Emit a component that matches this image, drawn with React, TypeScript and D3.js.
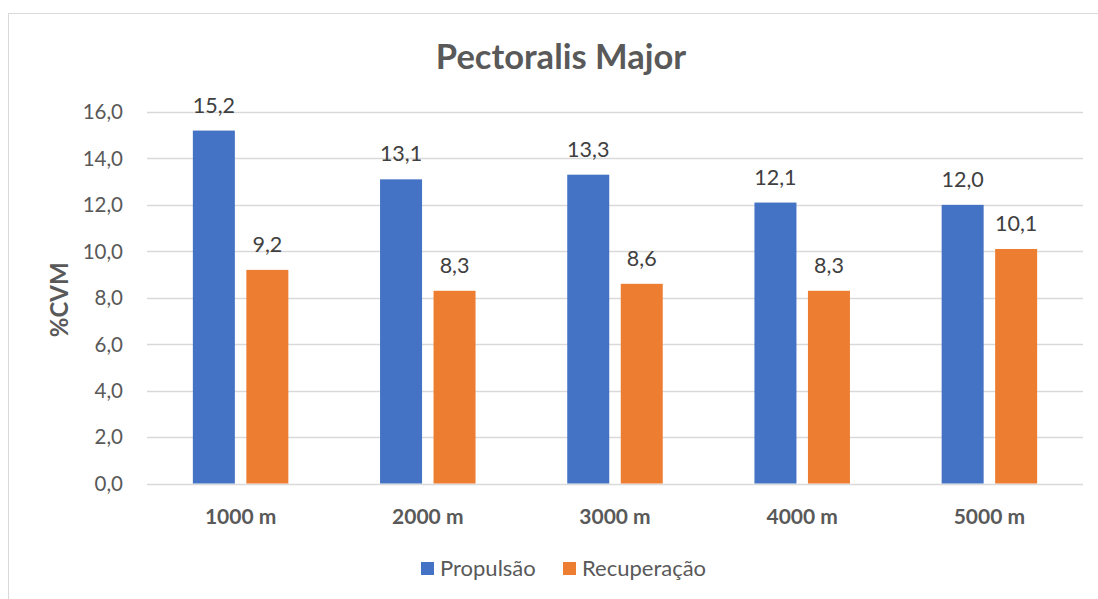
import React, { useEffect, useRef } from "react";
import * as d3 from "d3";

const categories = ["1000 m", "2000 m", "3000 m", "4000 m", "5000 m"];
const seriesNames = ["Propulsão", "Recuperação"];
const propulsao = [15.2, 13.1, 13.3, 12.1, 12.0];
const recuperacao = [9.2, 8.3, 8.6, 8.3, 10.1];
const yTicks = [0, 2, 4, 6, 8, 10, 12, 14, 16];
const colors = ["#4472C4", "#ED7D31"];

const W = 1098;
const H = 599;
const FONT = "Lato, 'Open Sans', sans-serif";
const TEXT = "#595959";

export default function App() {
  const ref = useRef<SVGSVGElement>(null);

  useEffect(() => {
    const svg = d3.select(ref.current);
    svg.selectAll("*").remove();

    const left = 147, right = 1083, top = 112, bottom = 483.5;

    svg.append("rect").attr("x", 8.5).attr("y", 13.5).attr("width", 1200).attr("height", 800)
      .attr("fill", "#fff").attr("stroke", "#D9D9D9").attr("stroke-width", 1);

    const x = d3.scaleBand().domain(categories).range([left, right]).paddingInner(0).paddingOuter(0);
    const y = d3.scaleLinear().domain([0, 16]).range([bottom, top]);
    const barW = 42, gap = 11.5;

    // gridlines
    svg.append("g").selectAll("line").data(yTicks).join("line")
      .attr("x1", left).attr("x2", right)
      .attr("y1", d => Math.round(y(d)) + 0.5).attr("y2", d => Math.round(y(d)) + 0.5)
      .attr("stroke", "#D9D9D9").attr("stroke-width", 1.3);

    // tick labels
    svg.append("g").selectAll("text").data(yTicks).join("text")
      .attr("x", 123).attr("y", d => y(d)).attr("dy", "0.36em")
      .attr("text-anchor", "end").attr("font-family", FONT).attr("font-size", 20.5).attr("fill", TEXT)
      .text(d => d3.format(".1f")(d).replace(".", ","));

    const series = [propulsao, recuperacao];
    const groupW = barW * 2 + gap;
    series.forEach((vals, si) => {
      const g = svg.append("g");
      const xs = (i: number) => x(categories[i])! + x.bandwidth() / 2 - groupW / 2 + si * (barW + gap);
      g.selectAll("rect").data(vals).join("rect")
        .attr("x", (_d, i) => xs(i)).attr("width", barW)
        .attr("y", d => y(d)).attr("height", d => y(0) - y(d))
        .attr("fill", colors[si]);
      g.selectAll("text").data(vals).join("text")
        .attr("x", (_d, i) => xs(i) + barW / 2).attr("y", d => y(d) - 18)
        .attr("text-anchor", "middle").attr("font-family", FONT).attr("font-size", 21.5).attr("fill", "#404040")
        .text(d => d3.format(".1f")(d).replace(".", ","));
    });

    // x labels
    svg.append("g").selectAll("text").data(categories).join("text")
      .attr("x", d => x(d)! + x.bandwidth() / 2).attr("y", 524)
      .attr("text-anchor", "middle").attr("font-family", FONT).attr("font-size", 21).attr("font-weight", "bold").attr("fill", TEXT)
      .text(d => d);

    // title
    svg.append("text").attr("x", 561).attr("y", 69).attr("text-anchor", "middle")
      .attr("font-family", FONT).attr("font-size", 34.5).attr("font-weight", "bold").attr("fill", TEXT)
      .text("Pectoralis Major");

    // y label
    svg.append("text").attr("transform", `translate(68,${(top + bottom) / 2 + 2}) rotate(-90)`)
      .attr("text-anchor", "middle").attr("font-family", FONT).attr("font-size", 24).attr("font-weight", "bold").attr("fill", TEXT)
      .text("%CVM");

    // legend
    const legendX = [421, 563];
    seriesNames.forEach((name, i) => {
      svg.append("rect").attr("x", legendX[i]).attr("y", 562).attr("width", 13).attr("height", 13).attr("fill", colors[i]);
      svg.append("text").attr("x", legendX[i] + 19).attr("y", 576)
        .attr("font-family", FONT).attr("font-size", 22).attr("fill", TEXT).text(name);
    });
  }, []);

  return (
    <svg ref={ref} width={W} height={H} style={{ position: "absolute", left: 0, top: 0, background: "#fff" }} />
  );
}
